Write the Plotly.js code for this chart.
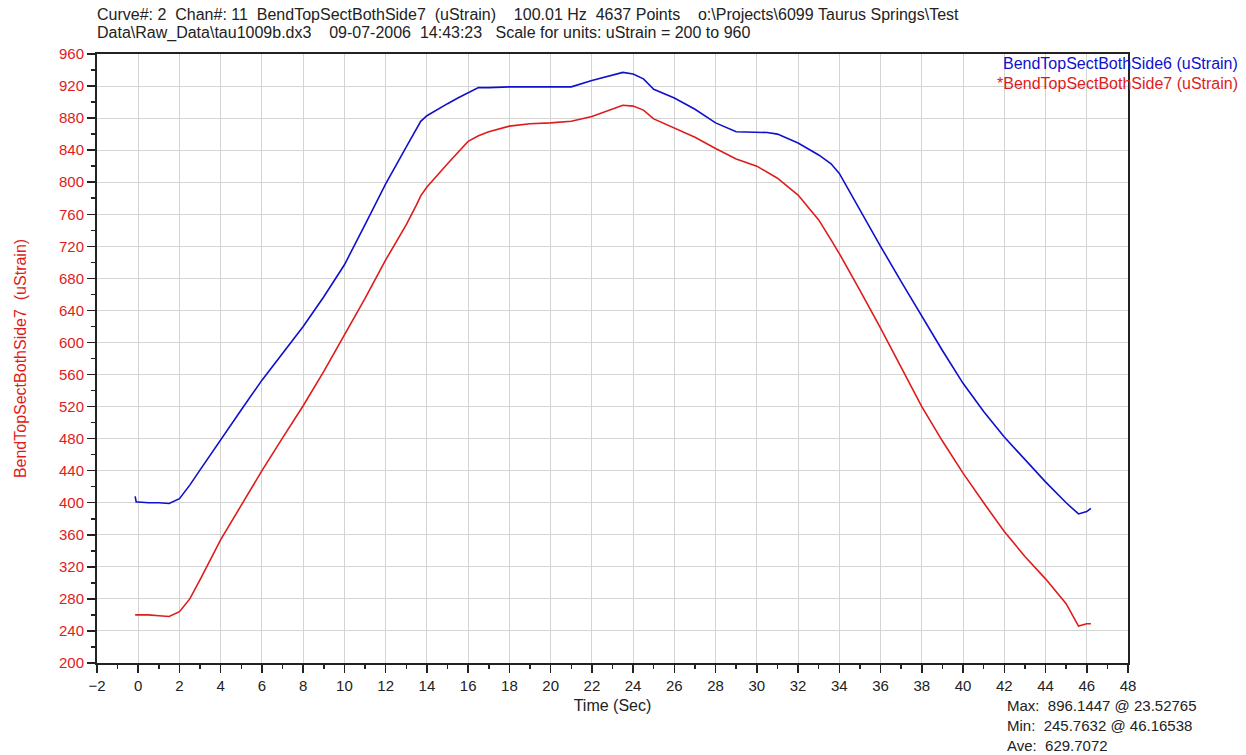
<!DOCTYPE html>
<html>
<head>
<meta charset="utf-8">
<script src="https://cdn.plot.ly/plotly-3.0.1.min.js"></script>
<style>html,body{margin:0;padding:0;background:#fff;}#chart{width:1246px;height:755px;}</style>
</head>
<body>
<div id="chart"></div>
<script>
const timeSec = [-0.15,-0.1,0,0.5,1,1.5,2,2.5,3,3.5,4,5,6,7,8,9,10,11,12,13,13.5,13.7,14,14.5,15,15.5,16,16.5,17,18,19,20,21,22,23,23.5,24,24.5,25,26,27,28,29,30,30.5,31,32,33,33.6,34,35,36,37,38,39,40,41,42,43,44,45,45.6,46,46.2];
const side6 = [408,401,401,400,400,399,405,422,441,460,479,516,553,587,620,657,697,747,798,844,868,876,883,891,898,905,912,918,918,919,919,919,919,927,934,937,935,929,916,905,891,874,863,862,862,860,849,834,823,811,765,720,676,633,590,549,514,482,454,426,400,386,389,393];
const side7 = [260,260,260,260,259,258,264,280,304,329,354,397,440,481,521,564,610,655,703,747,772,783,794,809,823,837,851,858,863,870,873,874,876,882,892,896,895,890,879,868,856,842,829,820,813,805,784,753,728,711,665,618,569,520,477,437,400,364,333,305,274,246,249,249];
const seriesNames = ["BendTopSectBothSide6 (uStrain)", "*BendTopSectBothSide7 (uStrain)"];
const headerLines = [
  "Curve#: 2  Chan#: 11  BendTopSectBothSide7  (uStrain)    100.01 Hz  4637 Points    o:\\Projects\\6099 Taurus Springs\\Test",
  "Data\\Raw_Data\\tau1009b.dx3    09-07-2006  14:43:23   Scale for units: uStrain = 200 to 960"
];
const statLines = ["Max:  896.1447 @ 23.52765", "Min:  245.7632 @ 46.16538", "Ave:  629.7072"];
const xTitle = "Time (Sec)";
const yTitle = "BendTopSectBothSide7  (uStrain)";

const sp = s => s.replace(/ /g, "\u00A0");
const FONT = "Liberation Sans, Arial, sans-serif";
const BLUE = "#1010cc", RED = "#e01b1b";

const traces = [
  {x: timeSec, y: side6, mode: "lines", line: {color: BLUE, width: 1.6}, name: seriesNames[0], hoverinfo: "skip"},
  {x: timeSec, y: side7, mode: "lines", line: {color: RED, width: 1.6}, name: seriesNames[1], hoverinfo: "skip"}
];

const ann = [];
headerLines.forEach((t, i) => ann.push({xref: "paper", yref: "paper", x: 0, y: 1, xanchor: "left", yanchor: "middle",
  xshift: -2, yshift: 40 - i * 19, text: sp(t), showarrow: false, font: {family: FONT, size: 16, color: "#222"}}));
seriesNames.forEach((t, i) => ann.push({xref: "paper", yref: "paper", x: 1, y: 1, xanchor: "right", yanchor: "middle",
  xshift: 112, yshift: -9 - i * 20, text: sp(t), showarrow: false, font: {family: FONT, size: 16, color: i === 0 ? BLUE : RED}}));
statLines.forEach((t, i) => ann.push({xref: "paper", yref: "paper", x: 1, y: 0, xanchor: "left", yanchor: "middle",
  xshift: -123, yshift: -42 - i * 20, text: sp(t), showarrow: false, font: {family: FONT, size: 15, color: "#222"}}));

const layout = {
  width: 1246, height: 755,
  margin: {l: 97, r: 118, t: 54, b: 92},
  paper_bgcolor: "#fff", plot_bgcolor: "#fff",
  showlegend: false,
  font: {family: FONT, size: 14, color: "#222"},
  xaxis: {
    range: [-2, 48], dtick: 2, tick0: 0, ticks: "outside", ticklen: 8, tickwidth: 1.5, tickcolor: "#222",
    showline: true, linecolor: "#222", linewidth: 2, mirror: true,
    showgrid: true, gridcolor: "#d4d4d4", gridwidth: 1, zeroline: false,
    tickfont: {family: FONT, size: 15, color: "#222"},
    minor: {dtick: 1, ticks: "outside", ticklen: 4, tickcolor: "#222", showgrid: false},
    title: {text: xTitle, font: {family: FONT, size: 16, color: "#222"}, standoff: 7}
  },
  yaxis: {
    range: [200, 960], dtick: 40, tick0: 200, ticks: "outside", ticklen: 8, tickwidth: 1.5, tickcolor: "#222",
    showline: true, linecolor: "#222", linewidth: 2, mirror: true,
    showgrid: true, gridcolor: "#d4d4d4", gridwidth: 1, zeroline: false,
    tickfont: {family: FONT, size: 15, color: RED},
    minor: {dtick: 20, ticks: "outside", ticklen: 4, tickcolor: "#222", showgrid: false},
    title: {text: yTitle, font: {family: FONT, size: 16, color: RED}, standoff: 28}
  },
  annotations: ann
};

Plotly.newPlot("chart", traces, layout, {staticPlot: true, displayModeBar: false});
</script>
</body>
</html>
